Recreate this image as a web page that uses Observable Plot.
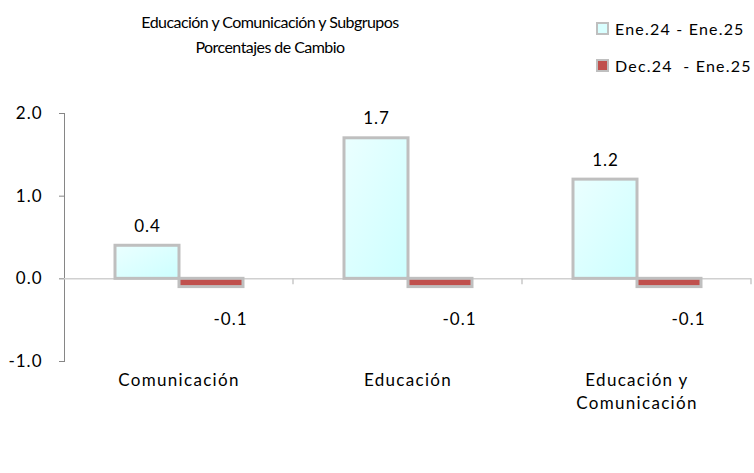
<!DOCTYPE html>
<html>
<head>
<meta charset="utf-8">
<script src="https://cdn.jsdelivr.net/npm/d3@7"></script>
<script src="https://cdn.jsdelivr.net/npm/@observablehq/plot@0.6"></script>
<style>
  html, body { margin: 0; padding: 0; background: #fff; }
  #wrap { position: relative; width: 754px; height: 473px; font-family: Lato, "Open Sans", sans-serif; color: #000; }
  #chart { position: absolute; left: 0; top: 0; }
  .title { position: absolute; left: 95px; width: 350px; text-align: center; font-size: 16px; letter-spacing: -0.55px; line-height: 25px; top: 9px; }
  .leg { position: absolute; left: 596px; font-size: 16px; letter-spacing: 1.2px; white-space: pre; display: flex; align-items: center; }
  .sw { width: 9px; height: 9px; border: 2px solid #bfbfbf; margin-right: 6px; box-sizing: content-box; }
  #chart svg g[aria-label="fx-axis tick label"] text { letter-spacing: 1.3px; font-size: 17px; }
  #chart svg g[aria-label="y-axis tick label"] text,
  #chart svg g[aria-label="text"] text { letter-spacing: 1px; font-size: 17px; }
</style>
</head>
<body>
<svg width="0" height="0" style="position:absolute">
  <defs>
    <linearGradient id="lightGrad" x1="0" y1="0" x2="1" y2="1">
      <stop offset="0" stop-color="#ebffff"/>
      <stop offset="1" stop-color="#ccffff"/>
    </linearGradient>
  </defs>
</svg>
<div id="wrap">
  <div id="chart"></div>
  <div class="title" id="title"></div>
  <div id="legend"></div>
</div>
<script>
const titleLines = ["Educación y Comunicación y Subgrupos", "Porcentajes de Cambio"];
const categories = ["Comunicación", "Educación", "Educación y\nComunicación"];
const seriesNames = ["Ene.24 - Ene.25", "Dec.24  - Ene.25"];
const seriesFills = ["url(#lightGrad)", "#c0504d"];
const anualValues = [0.4, 1.7, 1.2];
const mensualValues = [-0.1, -0.1, -0.1];
const yTicks = [-1, 0, 1, 2];

const data = categories.flatMap((c, i) => [
  {cat: c, series: seriesNames[0], value: anualValues[i]},
  {cat: c, series: seriesNames[1], value: mensualValues[i]}
]);

document.getElementById("title").innerHTML = titleLines.join("<br>");
const legend = document.getElementById("legend");
seriesNames.forEach((s, i) => {
  const d = document.createElement("div");
  d.className = "leg";
  d.style.top = (i === 0 ? 19 : 56) + "px";
  const sw = document.createElement("span");
  sw.className = "sw";
  sw.style.background = i === 0 ? "#d9ffff" : seriesFills[1];
  d.appendChild(sw);
  d.appendChild(document.createTextNode(s));
  legend.appendChild(d);
});

const fmt = v => d3.format(".1f")(v).replace("\u2212", "-");
const chart = Plot.plot({
  width: 754,
  height: 473,
  marginLeft: 63,
  marginRight: 3,
  marginTop: 113,
  marginBottom: 112,
  style: {fontFamily: "Lato, 'Open Sans', sans-serif", fontSize: "16px", color: "#000", background: "transparent"},
  fx: {domain: categories, padding: 0, label: null},
  x: {domain: seriesNames, paddingInner: 0, paddingOuter: 0.77, axis: null},
  y: {domain: [-1, 2], label: null},
  color: {domain: seriesNames, range: seriesFills},
  marks: [
    Plot.axisY({ticks: yTicks, tickFormat: fmt, tickSize: 5, tickPadding: 17, stroke: "#868686", fill: "#000", label: null}),
    Plot.frame({anchor: "left", facetAnchor: "left", stroke: "#868686"}),
    Plot.ruleY([0], {stroke: "#d0d0d0", strokeWidth: 1.5}),
    Plot.barY(data, {fx: "cat", x: "series", y: "value", fill: "series", stroke: "#bfbfbf", strokeWidth: 3}),
    Plot.text(data.filter(d => d.value >= 0), {fx: "cat", x: "series", y: "value", text: d => fmt(d.value), lineAnchor: "bottom", dy: -14, fill: "#000"}),
    Plot.text(data.filter(d => d.value < 0), {fx: "cat", x: "series", y: "value", text: d => fmt(d.value), dy: 32, dx: 19, fill: "#000"}),
    Plot.axisFx({anchor: "bottom", tickSize: 0, tickPadding: 8, lineHeight: 1.35, label: null, fill: "#000"})
  ]
});
document.getElementById("chart").appendChild(chart);

// small tick marks on the zero line at the category boundaries
const fxs = chart.scale("fx");
const ys = chart.scale("y");
const svg = d3.select(chart);
const y0 = ys.apply(0);
categories.forEach(c => {
  const xb = fxs.apply(c) + fxs.bandwidth;
  svg.append("line")
    .attr("x1", xb).attr("x2", xb)
    .attr("y1", y0).attr("y2", y0 + 6)
    .attr("stroke", "#c8c8c8").attr("stroke-width", 1.5);
});
</script>
</body>
</html>
